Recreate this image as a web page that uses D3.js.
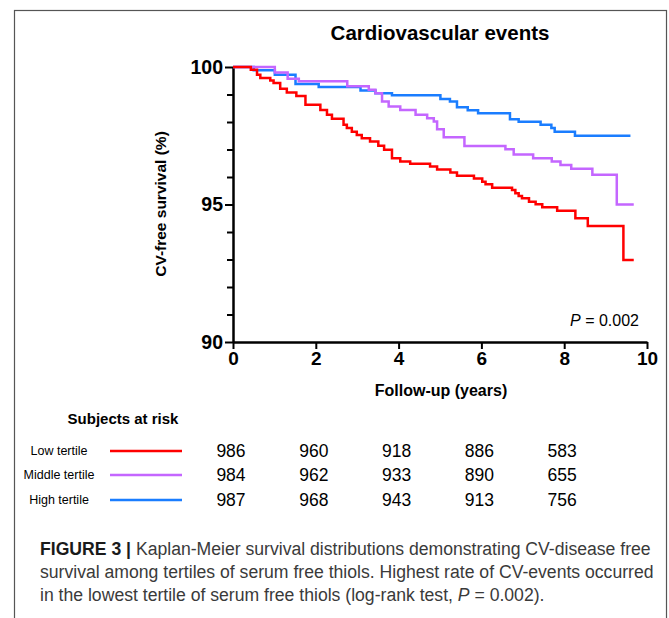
<!DOCTYPE html>
<html>
<head>
<meta charset="utf-8">
<script src="https://cdn.jsdelivr.net/npm/d3@7"></script>
<style>
    body { margin: 0; background: #fff; }
    svg { display: block; font-family: "Liberation Sans", Arial, sans-serif; }
</style>
</head>
<body>
<div id="chart"></div>
<script>
// step points (years, % event free)
const lowTimes = [0, 0.43, 0.58, 0.66, 0.90, 0.98, 1.14, 1.30, 1.53, 1.75, 2.11, 2.27, 2.39, 2.67, 2.75, 2.87, 2.99, 3.11, 3.31, 3.51, 3.65, 3.84, 4.04, 4.28, 4.76, 4.93, 5.25, 5.41, 5.82, 6.02, 6.10, 6.26, 6.74, 6.82, 6.90, 6.98, 7.15, 7.31, 7.47, 7.83, 8.27, 8.57, 9.43, 9.68];
const lowValues = [100, 99.9, 99.72, 99.6, 99.51, 99.42, 99.21, 99.07, 98.95, 98.63, 98.44, 98.26, 98.12, 97.90, 97.78, 97.65, 97.53, 97.41, 97.29, 97.14, 96.99, 96.68, 96.56, 96.48, 96.38, 96.27, 96.16, 96.05, 95.95, 95.83, 95.74, 95.61, 95.53, 95.41, 95.31, 95.23, 95.10, 95.01, 94.90, 94.77, 94.50, 94.22, 92.98, 92.98];

const middleTimes = [0, 1.01, 1.32, 1.59, 2.76, 3.28, 3.44, 3.60, 3.76, 4.04, 4.41, 4.69, 4.85, 4.93, 5.09, 5.59, 6.58, 6.78, 7.25, 7.70, 7.91, 8.17, 8.68, 9.27, 9.68];
const middleValues = [100, 99.8, 99.57, 99.48, 99.3, 99.17, 99.05, 98.75, 98.56, 98.44, 98.26, 98.14, 98.02, 97.74, 97.45, 97.13, 97.01, 96.82, 96.68, 96.56, 96.44, 96.30, 96.08, 95.0, 95.0];

const highTimes = [0, 0.5, 1.01, 1.51, 2.07, 3.08, 3.44, 3.84, 5.01, 5.24, 5.41, 5.67, 5.92, 6.69, 6.90, 7.43, 7.69, 7.77, 8.26, 9.60];
const highValues = [100, 99.88, 99.72, 99.38, 99.27, 99.15, 99.05, 98.97, 98.84, 98.75, 98.54, 98.43, 98.32, 98.10, 98.01, 97.90, 97.78, 97.65, 97.50, 97.50];

// subjects at risk table
const riskTimes = [0, 2, 4, 6, 8];
const groupNames = ["Low tertile", "Middle tertile", "High tertile"];
const lowRisk = [986, 960, 918, 886, 583];
const middleRisk = [984, 962, 933, 890, 655];
const highRisk = [987, 968, 943, 913, 756];

const xTicks = [0, 2, 4, 6, 8, 10];
const yMajorTicks = [90, 95, 100];

const captionLines = [
    "Kaplan-Meier survival distributions demonstrating CV-disease free",
    "survival among tertiles of serum free thiols. Highest rate of CV-events occurred",
    "in the lowest tertile of serum free thiols (log-rank test, "
];

document.addEventListener("DOMContentLoaded", function () {
    const width = 669;
    const height = 618;
    const svg = d3.select("#chart").append("svg").attr("width", width).attr("height", height);

    // frame around figure
    svg.append("rect")
        .attr("x", 14.5).attr("y", 10.5)
        .attr("width", 652).attr("height", 640)
        .attr("fill", "none").attr("stroke", "#555").attr("stroke-width", 1.2);

    const xScale = d3.scaleLinear().domain([0, 10]).range([233, 647]);
    const yScale = d3.scaleLinear().domain([90, 100]).range([342, 67]);

    svg.append("text")
        .attr("x", 440).attr("y", 40)
        .attr("text-anchor", "middle")
        .attr("font-size", 20.5).attr("font-weight", "bold")
        .text("Cardiovascular events");

    // y axis with minor ticks every 1 %
    const yAxis = svg.append("g")
        .attr("transform", `translate(${xScale(0)},0)`)
        .call(d3.axisLeft(yScale)
            .tickValues(d3.range(90, 101))
            .tickSize(8)
            .tickSizeOuter(0)
            .tickPadding(2)
            .tickFormat(d => yMajorTicks.includes(d) ? d : ""));
    yAxis.selectAll(".tick line")
        .attr("x2", d => yMajorTicks.includes(d) ? -8 : -6)
        .attr("stroke-width", 2);
    yAxis.select(".domain").attr("stroke-width", 2.5);
    yAxis.selectAll("text")
        .attr("font-size", 19.5).attr("font-weight", "bold")
        .attr("font-family", "Liberation Sans, Arial, sans-serif").attr("fill", "#000");

    const xAxis = svg.append("g")
        .attr("transform", `translate(0,${yScale(90)})`)
        .call(d3.axisBottom(xScale).tickValues(xTicks).tickSize(7).tickSizeOuter(0).tickPadding(3));
    xAxis.selectAll(".tick line").attr("stroke-width", 2);
    xAxis.select(".domain").attr("stroke-width", 2.5);
    xAxis.selectAll("text")
        .attr("font-size", 19).attr("font-weight", "bold")
        .attr("font-family", "Liberation Sans, Arial, sans-serif").attr("fill", "#000");

    svg.append("text")
        .attr("transform", `translate(166,204) rotate(-90)`)
        .attr("text-anchor", "middle")
        .attr("font-size", 15.5).attr("font-weight", "bold")
        .text("CV-free survival (%)");

    svg.append("text")
        .attr("x", 441).attr("y", 396)
        .attr("text-anchor", "middle")
        .attr("font-size", 16).attr("font-weight", "bold")
        .text("Follow-up (years)");

    const pText = svg.append("text")
        .attr("x", 639).attr("y", 326)
        .attr("text-anchor", "end")
        .attr("font-size", 16);
    pText.append("tspan").attr("font-style", "italic").text("P");
    pText.append("tspan").text(" = 0.002");

    // survival curves
    const series = [
        { times: highTimes, values: highValues, color: "#1a7dff" },
        { times: middleTimes, values: middleValues, color: "#c466ff" },
        { times: lowTimes, values: lowValues, color: "#ff0000" }
    ];
    const line = d3.line()
        .x(d => xScale(d[0]))
        .y(d => yScale(d[1]))
        .curve(d3.curveStepAfter);
    series.forEach(s => {
        svg.append("path")
            .datum(d3.zip(s.times, s.values))
            .attr("d", line)
            .attr("fill", "none")
            .attr("stroke", s.color)
            .attr("stroke-width", 2.5);
    });

    // subjects at risk
    svg.append("text")
        .attr("x", 123).attr("y", 424)
        .attr("text-anchor", "middle")
        .attr("font-size", 15).attr("font-weight", "bold")
        .text("Subjects at risk");

    const rows = [
        { name: groupNames[0], risk: lowRisk, color: "#ff0000", y: 451 },
        { name: groupNames[1], risk: middleRisk, color: "#c466ff", y: 475 },
        { name: groupNames[2], risk: highRisk, color: "#1a7dff", y: 500 }
    ];
    rows.forEach(r => {
        svg.append("text")
            .attr("x", 59).attr("y", r.y + 4)
            .attr("text-anchor", "middle")
            .attr("font-size", 12.5)
            .text(r.name);
        svg.append("line")
            .attr("x1", 110).attr("x2", 182)
            .attr("y1", r.y).attr("y2", r.y)
            .attr("stroke", r.color).attr("stroke-width", 2.5);
        svg.selectAll(null).data(r.risk).enter().append("text")
            .attr("x", (d, i) => xScale(riskTimes[i]) - 2)
            .attr("y", r.y + 6)
            .attr("text-anchor", "middle")
            .attr("font-size", 17.5)
            .text(d => d);
    });

    // caption - squeezed horizontally so line 2 fills the frame like the original
    const caption = svg.append("g").attr("font-size", 18).attr("fill", "#3a3a3a");
    const first = caption.append("text").attr("x", 0).attr("y", 555);
    first.append("tspan").attr("font-weight", "bold").attr("fill", "#1a1a1a").text("FIGURE 3 | ");
    first.append("tspan").text(captionLines[0]);
    const second = caption.append("text").attr("x", 0).attr("y", 578).text(captionLines[1]);
    const last = caption.append("text").attr("x", 0).attr("y", 601);
    last.append("tspan").text(captionLines[2]);
    last.append("tspan").attr("font-style", "italic").text("P");
    last.append("tspan").text(" = 0.002).");

    const squeeze = 614 / second.node().getComputedTextLength();
    caption.attr("transform", `translate(40,0) scale(${squeeze},1)`);
});
</script>
</body>
</html>
